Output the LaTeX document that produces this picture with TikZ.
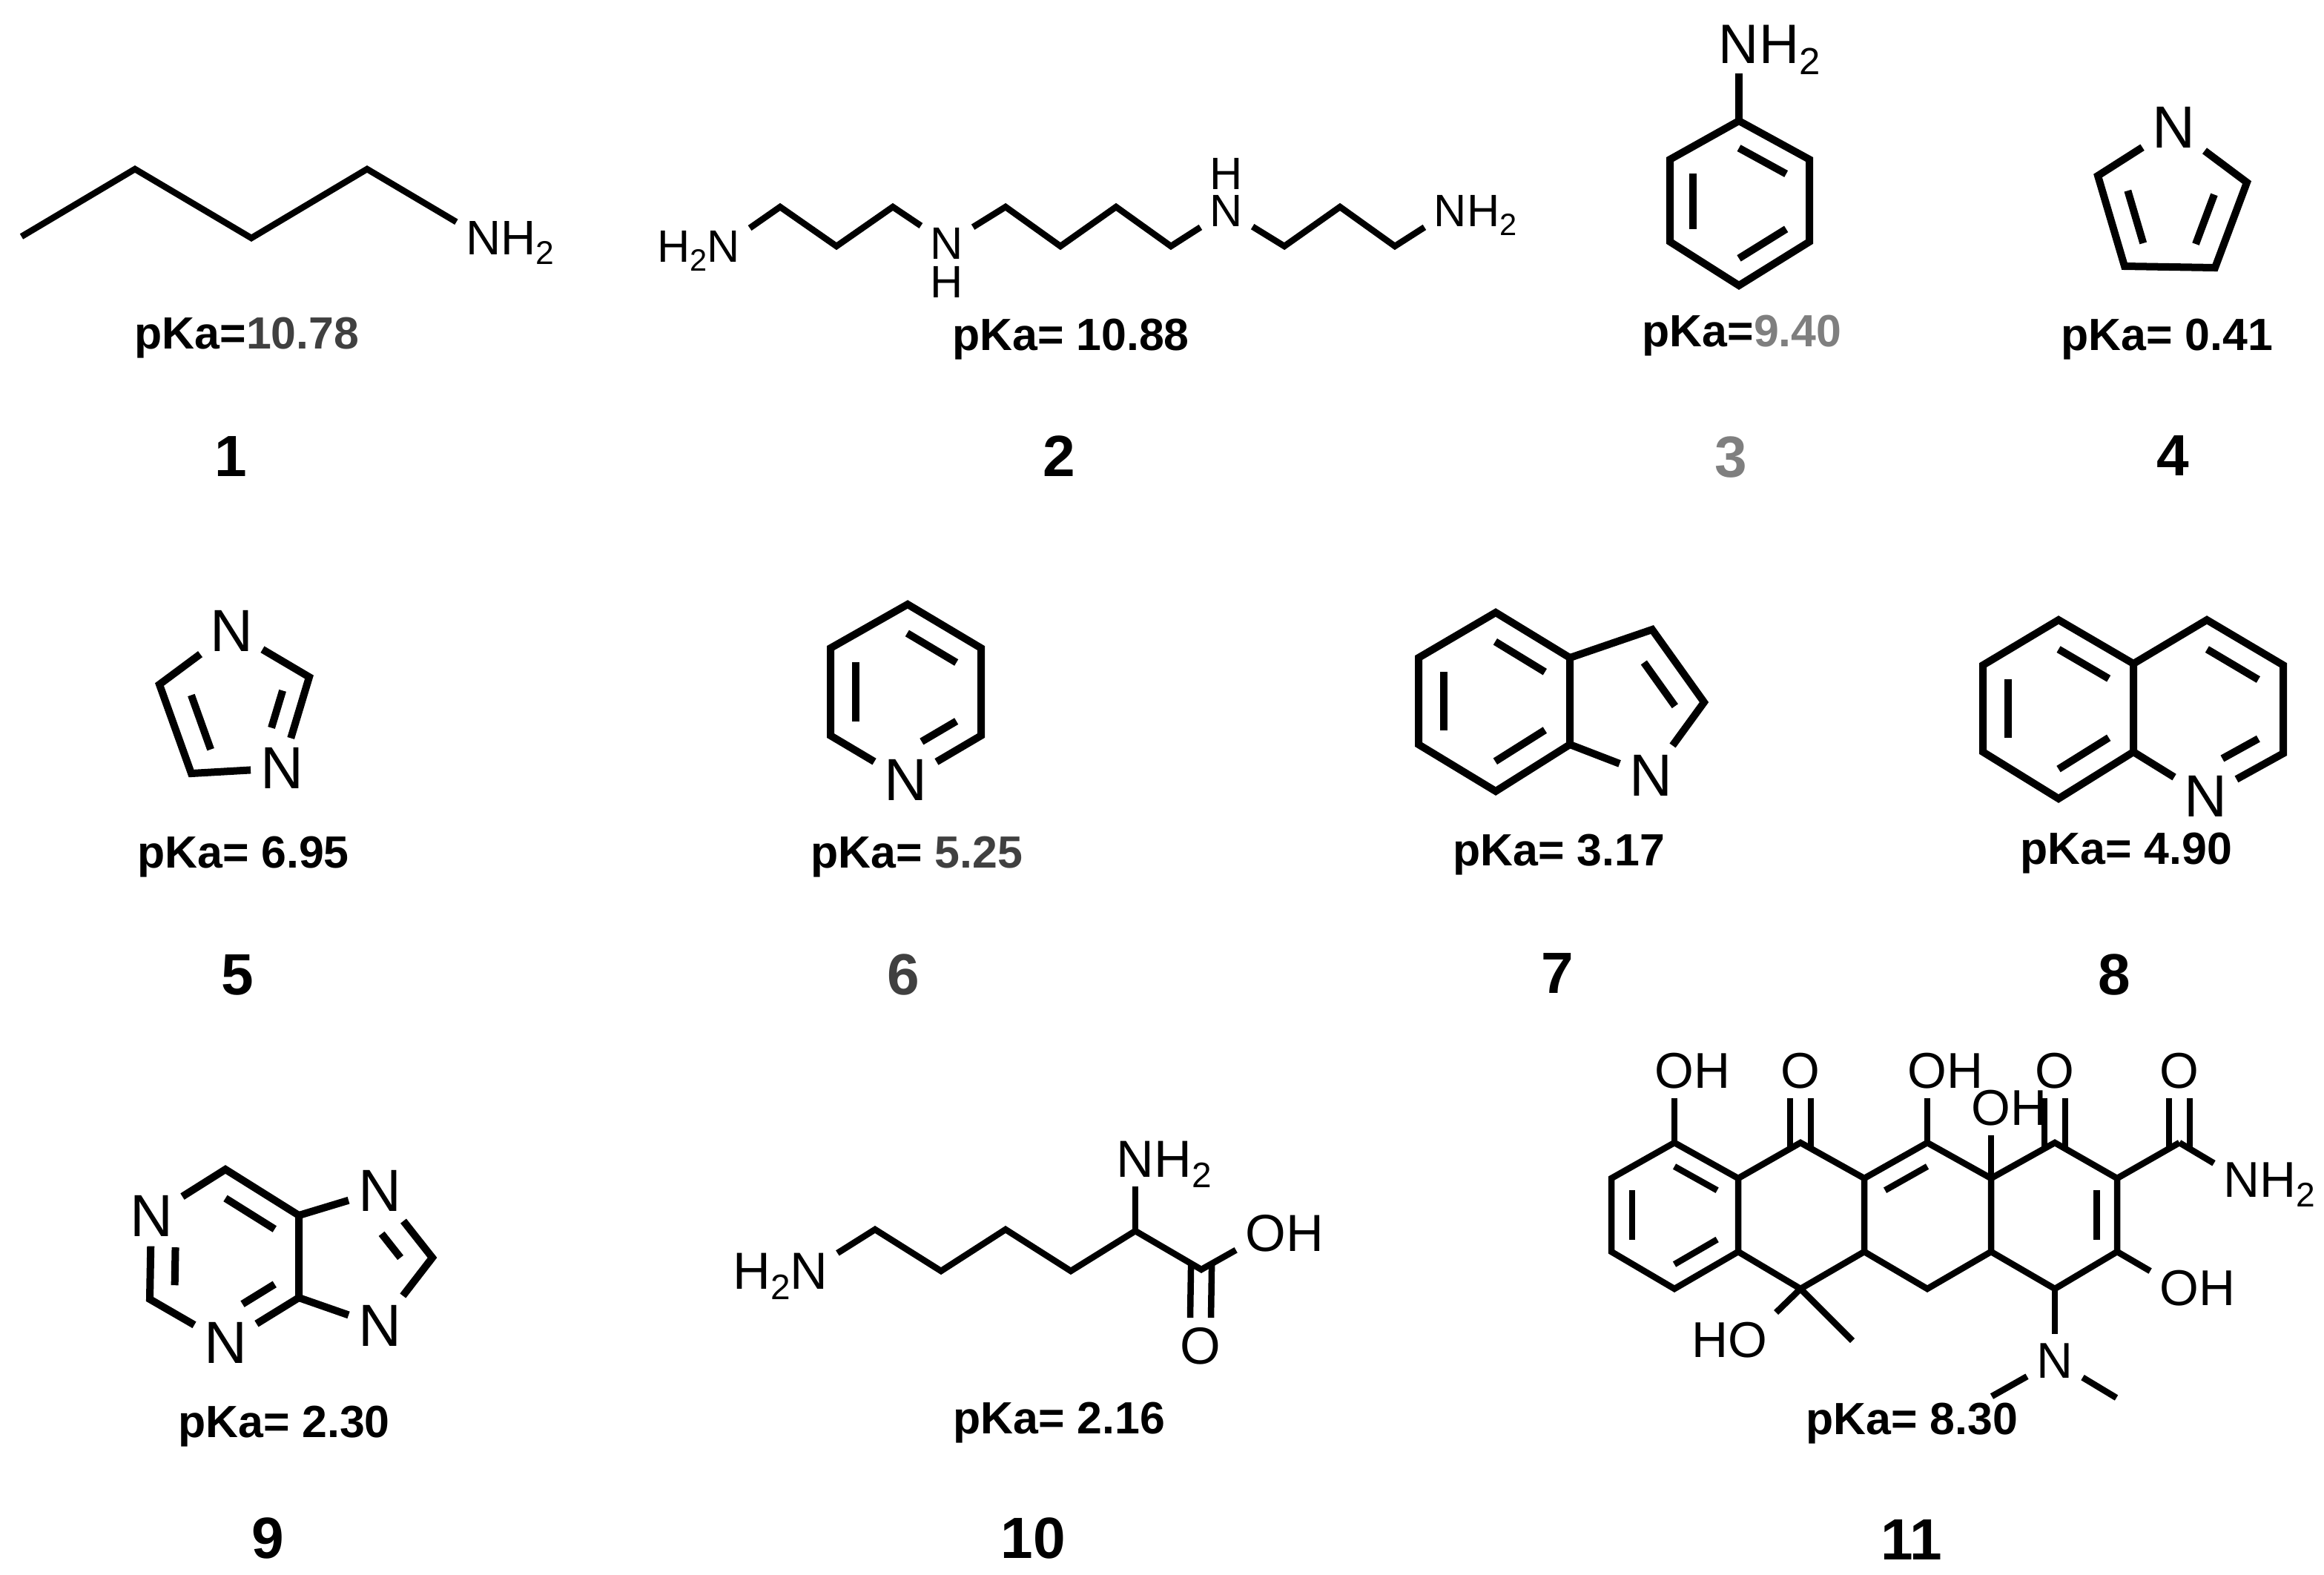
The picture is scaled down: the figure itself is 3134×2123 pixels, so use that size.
\documentclass[tikz,border=0pt]{standalone}
\usepackage{fontspec}
\setmainfont{Liberation Sans}
\usetikzlibrary{calc,positioning}
\definecolor{valdark}{HTML}{404040}
\definecolor{valmid}{HTML}{7F7F7F}
\newcommand{\asep}{.13cm}
\newcommand{\inset}{.33}
\newcommand{\subtwo}{\raisebox{-.2em}{\scalebox{.68}{2}}}
\newcommand{\dbond}[4][]{\draw[bond,#1] ($(#2)!\inset!(#4)$) -- ($(#3)!\inset!(#4)$);}
\newcommand{\cobond}[3]{
    \draw[bond,shorten <=-.06cm] ([xshift=-.14cm]#1) -- ([xshift=-.14cm]#2.#3);
    \draw[bond,shorten <=-.06cm] ([xshift=.14cm]#1) -- ([xshift=.14cm]#2.#3);
}
\tikzset{
    bond/.style={line width=.085cm,line join=miter},
    atom/.style={font=\fontsize{#1}{#1}\selectfont,inner sep=0pt,outer sep=\asep},
    hatom/.style={font=\fontsize{#1}{#1}\selectfont,inner sep=0pt,outer sep=0pt},
    tailr/.style={hatom=#1,anchor=base west},
    taill/.style={hatom=#1,anchor=base east},
    pka/.style={font=\fontsize{17.3}{17.3}\selectfont\bfseries,inner sep=0pt,anchor=base},
    num/.style={font=\fontsize{22.3}{22.3}\selectfont\bfseries,inner sep=0pt,anchor=base}
}
\begin{document}
\begin{tikzpicture}[x=.01cm,y=-.01cm]
    \useasboundingbox (0,0) rectangle (3134,2123);

    % Compound 1
    \foreach \n/\x/\y in {a1/29/319,a2/182/228,a3/339/321,a4/495/228}
        \coordinate (\n) at (\x,\y);
    \node[atom=18.6] (an) at (652,321) {N};
    \node[tailr=18.6] (ah) at ([xshift=-\asep]an.base east) {H\subtwo};
    \draw[bond] (a1) -- (a2) -- (a3) -- (a4) -- (an);
    \node[pka] (apk) at (333,470) {pKa=\textcolor{valdark}{10.78}};
    \node[num] (anum) at (311,642) {1};

    % Compound 2
    \foreach \n/\x/\y in {b1/1052/279,b2/1128/332,b3/1204/279,b4/1356/279,b5/1430/332,
        b6/1505/279,b7/1579/332,b8/1732/332,b9/1807/279,b10/1881/332}
        \coordinate (\n) at (\x,\y);
    \node[atom=17.4] (bn1) at (976,332) {N};
    \node[taill=17.4] (bh1) at ([xshift=\asep]bn1.base west) {H\subtwo};
    \node[atom=17.4] (bn2) at (1277,328) {N};
    \node[hatom=17.4] (bh2) at (1277,380) {H};
    \node[atom=17.4] (bn3) at (1654,284) {N};
    \node[hatom=17.4] (bh3) at (1654,234) {H};
    \node[atom=17.4] (bn4) at (1956,284) {N};
    \node[tailr=17.4] (bh4) at ([xshift=-\asep]bn4.base east) {H\subtwo};
    \draw[bond] (bn1) -- (b1) -- (b2) -- (b3) -- (bn2) -- (b4) -- (b5) -- (b6) -- (b7)
        -- (bn3) -- (b8) -- (b9) -- (b10) -- (bn4);
    \node[pka] (bpk) at (1444,472) {pKa= 10.88};
    \node[num] (bnum) at (1428,642) {2};

    % Compound 3
    \tikzset{bond/.style={line width=.1cm,line join=miter}}
    \foreach \n/\x/\y in {c1/2345/163,c2/2440/215,c3/2440/326,c4/2345/385,c5/2252/326,
        c6/2252/215,cc/2345/274}
        \coordinate (\n) at (\x,\y);
    \node[atom=21.3] (cn) at (2345,60) {N};
    \node[tailr=21.3] (ch) at ([xshift=-\asep]cn.base east) {H\subtwo};
    \draw[bond] (c1) -- (c2) -- (c3) -- (c4) -- (c5) -- (c6) -- cycle;
    \draw[bond] (c1) -- (cn);
    \dbond{c1}{c2}{cc}
    \dbond{c6}{c5}{cc}
    \dbond{c3}{c4}{cc}
    \node[pka] (cpk) at (2349,467) {pKa=\textcolor{valmid}{9.40}};
    \node[num,text=valmid] (cnum) at (2334,643) {3};

    % Compound 4
    \foreach \n/\x/\y in {d1/2829/237,d2/2865/359,d3/2987/361,d4/3030/246,dc/2925/285}
        \coordinate (\n) at (\x,\y);
    \node[atom=22.8] (dn) at (2931,172) {N};
    \draw[bond] (dn) -- (d1) -- (d2) -- (d3) -- (d4) -- (dn);
    \renewcommand{\inset}{.42}
    \dbond{d1}{d2}{dc}
    \dbond{d3}{d4}{dc}
    \node[pka] (dpk) at (2922,472) {pKa= 0.41};
    \node[num] (dnum) at (2930,641) {4};

    % Compound 5
    \foreach \n/\x/\y in {e1/215/923,e2/258/1043,e3/417/913,ec/325/960}
        \coordinate (\n) at (\x,\y);
    \node[atom=22.8] (en1) at (312,851) {N};
    \node[atom=22.8] (en2) at (380,1036) {N};
    \draw[bond] (en1) -- (e1) -- (e2) -- (en2) -- (e3) -- (en1);
    \renewcommand{\inset}{.39}
    \dbond{e1}{e2}{ec}
    \dbond[shorten >=.26cm]{e3}{en2}{ec}
    \node[pka] (epk) at (328,1170) {pKa= 6.95};
    \node[num] (enum) at (320,1341) {5};

    % Compound 6
    \foreach \n/\x/\y in {f1/1224/815,f2/1323/874,f3/1323/992,f4/1120/992,f5/1120/874,fc/1222/933}
        \coordinate (\n) at (\x,\y);
    \node[atom=22.8] (fn) at (1221,1052) {N};
    \draw[bond] (fn) -- (f3) -- (f2) -- (f1) -- (f5) -- (f4) -- (fn);
    \renewcommand{\inset}{.33}
    \dbond{f1}{f2}{fc}
    \dbond{f5}{f4}{fc}
    \dbond[shorten >=.25cm]{f3}{fn}{fc}
    \node[pka] (fpk) at (1236,1170) {pKa= \textcolor{valdark}{5.25}};
    \node[num,text=valdark] (fnum) at (1218,1341) {6};

    % Compound 7
    \foreach \n/\x/\y in {g1/2017/826,g2/2117/887,g3/2117/1004,g4/2017/1067,g5/1913/1004,
        g6/1913/887,g7/2228/849,g8/2298/947,gc1/2015/945,gc2/2200/960}
        \coordinate (\n) at (\x,\y);
    \node[atom=22.8] (gn) at (2226,1046) {N};
    \draw[bond] (g1) -- (g2) -- (g3) -- (g4) -- (g5) -- (g6) -- cycle;
    \draw[bond] (g2) -- (g7) -- (g8) -- (gn) -- (g3);
    \dbond{g1}{g2}{gc1}
    \dbond{g6}{g5}{gc1}
    \dbond{g3}{g4}{gc1}
    \renewcommand{\inset}{.4}
    \dbond{g7}{g8}{gc2}
    \node[pka] (gpk) at (2102,1167) {pKa= 3.17};
    \node[num] (gnum) at (2100,1339) {7};

    % Compound 8
    \foreach \n/\x/\y in {h1/2776/836,h2/2877/895,h3/2877/1014,h4/2776/1077,h5/2674/1014,
        h6/2674/897,h7/2976/836,h8/3079/897,h9/3079/1016,hc1/2776/956,hc2/2977/956}
        \coordinate (\n) at (\x,\y);
    \node[atom=22.8] (hn) at (2974,1074) {N};
    \draw[bond] (h1) -- (h2) -- (h3) -- (h4) -- (h5) -- (h6) -- cycle;
    \draw[bond] (h2) -- (h7) -- (h8) -- (h9) -- (hn) -- (h3);
    \renewcommand{\inset}{.33}
    \dbond{h1}{h2}{hc1}
    \dbond{h6}{h5}{hc1}
    \dbond{h3}{h4}{hc1}
    \dbond{h7}{h8}{hc2}
    \dbond[shorten >=.25cm]{h9}{hn}{hc2}
    \node[pka] (hpk) at (2867,1165) {pKa= 4.90};
    \node[num] (hnum) at (2851,1341) {8};

    % Compound 9
    \foreach \n/\x/\y in {i1/304/1577,i2/403/1639,i3/403/1750,i4/202/1752,i5/583/1696,
        ic1/304/1695,ic2/470/1696}
        \coordinate (\n) at (\x,\y);
    \node[atom=22.8] (in1) at (204,1640) {N};
    \node[atom=22.8] (in2) at (304,1811) {N};
    \node[atom=22.8] (in3) at (512,1606) {N};
    \node[atom=22.8] (in4) at (512,1788) {N};
    \draw[bond] (in1) -- (i1) -- (i2) -- (i3) -- (in2) -- (i4) -- (in1);
    \draw[bond] (i2) -- (in3) -- (i5) -- (in4) -- (i3);
    \dbond{i1}{i2}{ic1}
    \dbond[shorten <=.24cm]{in1}{i4}{ic1}
    \dbond[shorten >=.27cm]{i3}{in2}{ic1}
    \renewcommand{\inset}{.38}
    \dbond[shorten <=.3cm]{in3}{i5}{ic2}
    \node[pka] (ipk) at (383,1938) {pKa= 2.30};
    \node[num] (inum) at (361,2101) {9};

    % Compound 10
    \tikzset{bond/.style={line width=.085cm,line join=miter}}
    \foreach \n/\x/\y in {l1/1180/1658,l2/1269/1714,l3/1356/1658,l4/1444/1714,l5/1531/1660,l6/1620/1712}
        \coordinate (\n) at (\x,\y);
    \node[atom=20] (ln1) at (1091,1714) {N};
    \node[taill=20] (lh1) at ([xshift=\asep]ln1.base west) {H\subtwo};
    \node[atom=20] (ln2) at (1531,1563) {N};
    \node[tailr=20] (lh2) at ([xshift=-\asep]ln2.base east) {H\subtwo};
    \node[atom=20] (lo1) at (1707,1663) {O};
    \node[tailr=20] (lh3) at ([xshift=-\asep]lo1.base east) {H};
    \node[atom=20] (lo2) at (1619,1815) {O};
    \draw[bond] (ln1) -- (l1) -- (l2) -- (l3) -- (l4) -- (l5) -- (l6) -- (lo1);
    \draw[bond] (l5) -- (ln2);
    \cobond{l6}{lo2}{north}
    \node[pka] (lpk) at (1428,1933) {pKa= 2.16};
    \node[num] (lnum) at (1393,2101) {10};

    % Compound 11
    \foreach \n/\x/\y in {k1/2258/1541,k2/2344/1589,k3/2344/1688,k4/2258/1738,k5/2173/1688,
        k6/2173/1589,k7/2428/1541,k8/2514/1589,k9/2514/1688,k10/2428/1738,k11/2599/1541,
        k12/2685/1589,k13/2685/1688,k14/2599/1738,k15/2771/1541,k16/2855/1589,k17/2855/1688,
        k18/2771/1738,k19/2939/1541,k20/2498/1808,k21/2686/1883,k22/2854/1885,
        kc1/2258/1638,kc3/2599/1638,kc4/2771/1638}
        \coordinate (\n) at (\x,\y);
    \foreach \n/\x/\y in {ko1/2258/1444,ko3/2599/1444,ko4/2685/1494,ko7/2939/1737} {
        \node[atom=19.3] (\n) at (\x,\y) {O};
        \node[tailr=19.3] (\n h) at ([xshift=-\asep]\n.base east) {H};
    }
    \foreach \n/\x/\y in {ko2/2428/1444,ko5/2771/1444,ko6/2939/1444}
        \node[atom=19.3] (\n) at (\x,\y) {O};
    \node[atom=19.3] (ko8) at (2357,1807) {O};
    \node[taill=19.3] (ko8h) at ([xshift=\asep]ko8.base west) {H};
    \node[atom=19.3] (kn1) at (3023,1591) {N};
    \node[tailr=19.3] (kn1h) at ([xshift=-\asep]kn1.base east) {H\subtwo};
    \node[atom=19.3] (kn2) at (2771,1835) {N};
    \draw[bond] (k1) -- (k2) -- (k3) -- (k4) -- (k5) -- (k6) -- cycle;
    \draw[bond] (k2) -- (k7) -- (k8) -- (k9) -- (k10) -- (k3);
    \draw[bond] (k8) -- (k11) -- (k12) -- (k13) -- (k14) -- (k9);
    \draw[bond] (k12) -- (k15) -- (k16) -- (k17) -- (k18) -- (k13);
    \foreach \a/\b in {k16/k19,k1/ko1,k11/ko3,k12/ko4,k19/kn1,k17/ko7,k18/kn2,kn2/k21,kn2/k22,k10/ko8,k10/k20}
        \draw[bond] (\a) -- (\b);
    \cobond{k7}{ko2}{south}
    \cobond{k15}{ko5}{south}
    \cobond{k19}{ko6}{south}
    \renewcommand{\inset}{.33}
    \dbond{k1}{k2}{kc1}
    \dbond{k6}{k5}{kc1}
    \dbond{k3}{k4}{kc1}
    \dbond{k8}{k11}{kc3}
    \dbond{k16}{k17}{kc4}
    \node[pka] (kpk) at (2578,1934) {pKa= 8.30};
    \node[num] (knum) at (2578,2103) {11};
\end{tikzpicture}
\end{document}
